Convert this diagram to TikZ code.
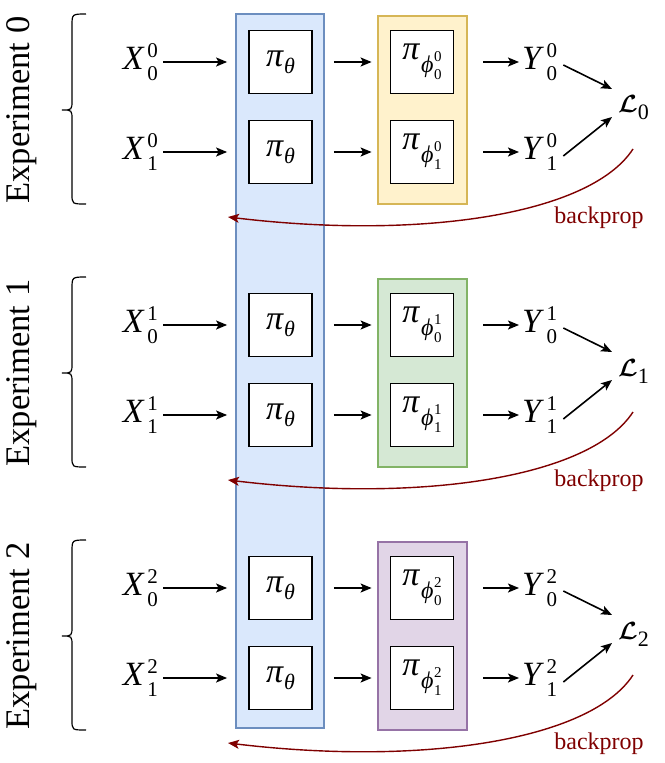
\documentclass[tikz,border=0pt]{standalone}
\usepackage{amsmath}
\usepackage{fontspec}
\setmainfont{Liberation Serif}
\usetikzlibrary{arrows.meta,calc}
\definecolor{bluefill}{HTML}{DAE8FC}
\definecolor{bluedraw}{HTML}{6C8EBF}
\definecolor{yelfill}{HTML}{FFF2CC}
\definecolor{yeldraw}{HTML}{D6B656}
\definecolor{grnfill}{HTML}{D5E8D4}
\definecolor{grndraw}{HTML}{82B366}
\definecolor{purfill}{HTML}{E1D5E7}
\definecolor{purdraw}{HTML}{9673A6}
\definecolor{bpred}{HTML}{7F0000}
% base letter with superscript #2 and subscript #3
\newcommand{\sus}[3]{\textit{#1}\kern2.5pt\rlap{\raisebox{12.5pt}{\fontsize{21}{21}\selectfont #2}}\raisebox{-10.5pt}{\fontsize{21}{21}\selectfont #3}}
\newcommand{\pitheta}{\textit{π}\raisebox{-7pt}{\fontsize{22}{22}\selectfont\textit{θ}}}
\newcommand{\piphi}[2]{\textit{π}\kern1pt\raisebox{-13pt}{\fontsize{24}{24}\selectfont\textit{ϕ}\kern0.5pt\rlap{\raisebox{11pt}{\fontsize{15}{15}\selectfont #1}}\raisebox{-7pt}{\fontsize{15}{15}\selectfont #2}}}
\newcommand{\lossL}[1]{$\boldsymbol{\mathcal{L}}$\raisebox{-7pt}{\fontsize{22}{22}\selectfont #1}}
\begin{document}
\begin{tikzpicture}[x=1pt,y=-1pt,
  font=\fontsize{34}{40}\selectfont,
  arr/.style={-{Stealth[length=11pt,width=9pt,inset=2.5pt]}, line width=1.6pt},
  pibox/.style={draw, line width=1.8pt, fill=white, minimum width=63pt, minimum height=63pt, inner sep=0pt},
  lbl/.style={inner sep=3pt},
  group/.style={line width=1.4pt},
  bp/.style={draw=bpred, line width=1.4pt, -{Stealth[length=11pt,width=9pt,inset=2.5pt]}},
  bptext/.style={text=bpred, font=\fontsize{24}{28}\selectfont},
  exptext/.style={rotate=90, font=\fontsize{34.5}{40}\selectfont},
  losstext/.style={inner sep=3pt, font=\fontsize{40}{44}\selectfont},
  bracestyle/.style={line width=1.2pt}]
\useasboundingbox (0,0) rectangle (664,763);
\filldraw[group, fill=bluefill, draw=bluedraw] (236,14) rectangle (324,728);
\foreach \e/\A/\col in {0/62/yel,1/325/grn,2/588/pur}{
  \pgfmathsetmacro{\B}{\A+90}
  \pgfmathsetmacro{\T}{\A-46}
  \pgfmathsetmacro{\Bt}{\B+52}
  \pgfmathsetmacro{\M}{(\T+\Bt)/2}
  \filldraw[group, fill=\col fill, draw=\col draw] (378,\T) rectangle (467,\Bt);
  % brace
  \draw[bracestyle] (86,{\T-2}) .. controls (72,{\T-2}) .. (72,{\T+10}) -- (72,{\M-10})
     .. controls (72,\M) .. (62,\M) .. controls (72,\M) .. (72,{\M+10}) -- (72,{\Bt-10})
     .. controls (72,\Bt) .. (86,\Bt);
  \node[exptext] (exp\e) at (22,\M) {Experiment \e};
  % row nodes
  \node[lbl, anchor=east] (xa\e) at (161,\A) {\sus{X}{\e}{0}};
  \node[lbl, anchor=east] (xb\e) at (161,\B) {\sus{X}{\e}{1}};
  \node[pibox] (ta\e) at (280.5,\A) {\pitheta};
  \node[pibox] (tb\e) at (280.5,\B) {\pitheta};
  \node[pibox] (pa\e) at (422,\A) {\piphi{\e}{0}};
  \node[pibox] (pb\e) at (422,\B) {\piphi{\e}{1}};
  \node[lbl, anchor=west] (ya\e) at (519,\A) {\sus{Y}{\e}{0}};
  \node[lbl, anchor=west] (yb\e) at (519,\B) {\sus{Y}{\e}{1}};
  \node[losstext, anchor=west] (L\e) at (615,{\A+46}) {\lossL{\e}};
  \coordinate (bpend\e) at (228,{\A+155});
  \node[bptext] (bpl\e) at (599,{\A+156}) {backprop};
  % arrows
  \draw[arr, shorten <=2pt, shorten >=21pt] (xa\e.east) -- (ta\e.west);
  \draw[arr, shorten <=2pt, shorten >=21pt] (xb\e.east) -- (tb\e.west);
  \draw[arr, shorten <=21pt, shorten >=18pt] (ta\e.east) -- (pa\e.west);
  \draw[arr, shorten <=21pt, shorten >=18pt] (tb\e.east) -- (pb\e.west);
  \draw[arr, shorten <=29pt] (pa\e.east) -- (ya\e.west);
  \draw[arr, shorten <=29pt] (pb\e.east) -- (yb\e.west);
  \draw[arr] ($(ya\e.east)+(3,3)$) -- ($(L\e.west)+(-3,-19)$);
  \draw[arr] ($(yb\e.east)+(3,4)$) -- ($(L\e.west)+(-3,9)$);
  \draw[bp] ($(L\e.west)+(18,41)$) .. controls (590,{\A+153}) and (420,{\A+178}) .. (bpend\e);
}
\end{tikzpicture}
\end{document}
